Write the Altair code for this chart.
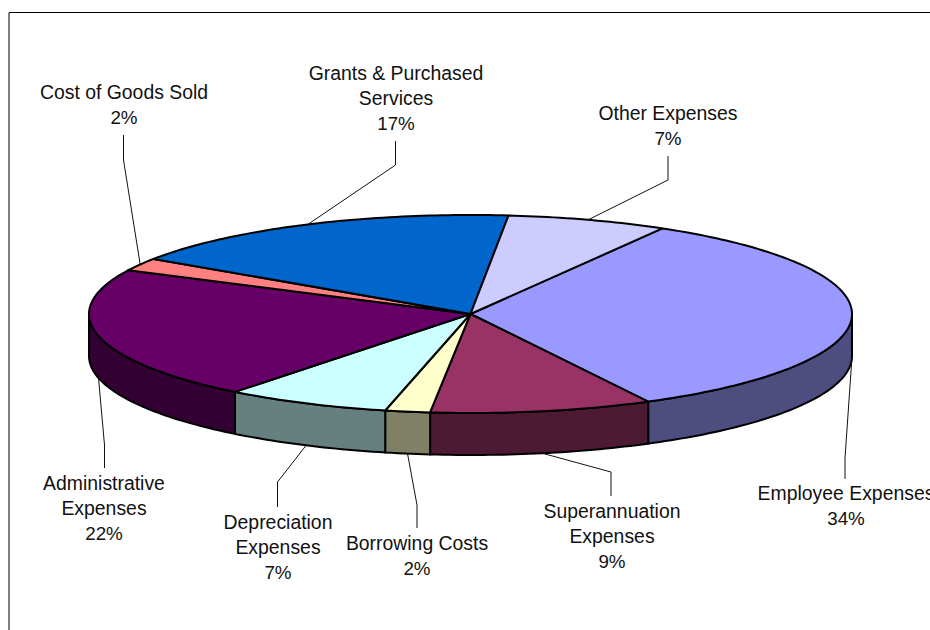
import math

import altair as alt
import pandas as pd

# Expense shares, clockwise from the first slice
categories = [
    "Employee Expenses", "Superannuation Expenses", "Borrowing Costs",
    "Depreciation Expenses", "Administrative Expenses", "Cost of Goods Sold",
    "Grants & Purchased Services", "Other Expenses",
]
shares = [33.9, 9.4, 1.9, 7.0, 21.7, 2.1, 17.2, 6.8]
top_colours = ["#9999FF", "#993366", "#FFFFCC", "#CCFFFF", "#660066", "#FF8080", "#0066CC", "#CCCCFF"]
side_colours = ["#4D4D80", "#4D1A33", "#808066", "#668080", "#330033", "#804040", "#003366", "#666680"]

# How each category label wraps
label_lines = [
    ["Employee Expenses"], ["Superannuation", "Expenses"], ["Borrowing Costs"],
    ["Depreciation", "Expenses"], ["Administrative", "Expenses"], ["Cost of Goods Sold"],
    ["Grants & Purchased", "Services"], ["Other Expenses"],
]

# Layout: pie ellipse, label centres and leader elbows
CX, CY, RX, RY, DEPTH = 470.5, 314.0, 381.5, 99.0, 42.0
START_ANGLE = 59.8
NAME_SIZE = 19.4
PERCENT_SIZE = 18.8
LINE_GAP = 25.4
label_x = [846, 612, 417, 278, 104, 124, 396, 668]
label_top = [493.5, 511.5, 543.5, 522.5, 483.5, 92.5, 73.5, 113.5]
elbows = [
    [(845, 458), (845, 479)], [(611, 472), (611, 496)], [(417, 505), (417, 528)],
    [(277.5, 482), (277.5, 507)], [(104.5, 445), (104.5, 468)], [(123.5, 160), (123.5, 135)],
    [(395.5, 165), (395.5, 141)], [(668, 180), (668, 156)],
]


def rim(angle, drop=0.0):
    rad = math.radians(angle)
    return CX + RX * math.cos(rad), CY - RY * math.sin(rad) + drop


def arc_angles(a_from, a_to):
    n = max(2, int(abs(a_to - a_from)) + 2)
    return [a_from + (a_to - a_from) * i / (n - 1) for i in range(n)]


x_scale = alt.Scale(domain=[0, 930], range=[0, 930])
y_scale = alt.Scale(domain=[0, 630], range=[0, 630])


def outline(points, **mark_kwargs):
    table = pd.DataFrame(
        [{"x": px, "y": py, "i": i} for i, (px, py) in enumerate(points)]
    )
    return alt.Chart(table).mark_line(**mark_kwargs).encode(
        x=alt.X("x:Q", scale=x_scale, axis=None),
        y=alt.Y("y:Q", scale=y_scale, axis=None),
        order="i:Q",
    )


# Slice boundaries, running clockwise
bounds = []
angle = START_ANGLE
for share in shares:
    bounds.append((angle, angle - share * 3.6))
    angle -= share * 3.6

layers = []

# Chart frame: left and top edges only
layers.append(outline([(9, 630), (9, 12.5), (930, 12.5)], stroke="black", strokeWidth=1))

# Outer wall of the disc, only where it faces the viewer
for (a0, a1), colour in zip(bounds, side_colours):
    lo, hi = max(a1, -180.0), min(a0, 0.0)
    if lo >= hi:
        continue
    span = arc_angles(hi, lo)
    pts = [rim(a) for a in span] + [rim(a, DEPTH) for a in reversed(span)]
    layers.append(outline(pts + pts[:1], fill=colour, stroke="black", strokeWidth=2))

# Top faces of the slices
for (a0, a1), colour in zip(bounds, top_colours):
    pts = [(CX, CY)] + [rim(a) for a in arc_angles(a0, a1)] + [(CX, CY)]
    layers.append(outline(pts, fill=colour, stroke="black", strokeWidth=2, strokeJoin="round"))

# Leader lines run from each slice's mid-angle on the rim to its label
for (a0, a1), bend in zip(bounds, elbows):
    mid = (a0 + a1) / 2
    drop = DEPTH if math.sin(math.radians(mid)) < 0.02 else 0.0
    layers.append(outline([rim(mid, drop)] + bend, stroke="#111111", strokeWidth=1))

# Category names with their rounded percentages underneath
name_rows, percent_rows = [], []
for share, lines, lx, ly in zip(shares, label_lines, label_x, label_top):
    for i, text in enumerate(lines):
        name_rows.append({"x": lx, "y": ly + i * LINE_GAP, "text": text})
    percent_rows.append({"x": lx, "y": ly + len(lines) * LINE_GAP, "text": f"{round(share)}%"})

for rows, size in ((name_rows, NAME_SIZE), (percent_rows, PERCENT_SIZE)):
    layers.append(
        alt.Chart(pd.DataFrame(rows)).mark_text(
            font="Liberation Sans", fontSize=size, color="#111111",
            align="center", baseline="middle",
        ).encode(
            x=alt.X("x:Q", scale=x_scale, axis=None),
            y=alt.Y("y:Q", scale=y_scale, axis=None),
            text="text:N",
        )
    )

chart = alt.layer(*layers).properties(
    width=930, height=630, padding=0, background="white",
    autosize=alt.AutoSizeParams(type="none"),
).configure_view(stroke=None)

chart.save("out.html", embed_options={"renderer": "svg", "actions": False})
